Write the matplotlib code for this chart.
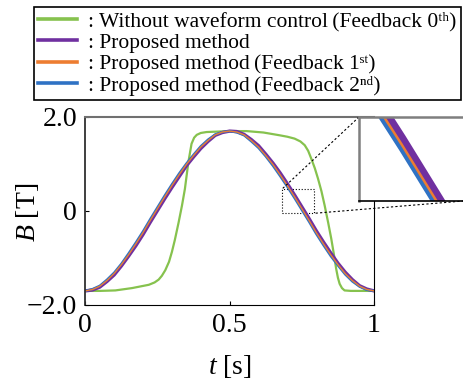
import matplotlib.pyplot as plt
from matplotlib.font_manager import FontProperties
from mpl_toolkits.axes_grid1.inset_locator import mark_inset

plt.rcParams['font.family'] = ['Liberation Serif', 'DejaVu Serif', 'Noto Sans CJK JP']
plt.rcParams['mathtext.fontset'] = 'custom'
plt.rcParams['mathtext.rm'] = 'Liberation Serif'
plt.rcParams['mathtext.it'] = 'Liberation Serif:italic'

# time axis [s] for the proposed-method curves
t = [0.0, 0.025, 0.05, 0.075, 0.1, 0.125, 0.15, 0.175, 0.2, 0.225,
     0.25, 0.275, 0.3, 0.325, 0.35, 0.375, 0.4, 0.425, 0.45, 0.475,
     0.5, 0.525, 0.55, 0.575, 0.6, 0.625, 0.65, 0.675, 0.7, 0.725,
     0.75, 0.775, 0.8, 0.825, 0.85, 0.875, 0.9, 0.925, 0.95, 0.975, 1.0]

# B [T]
b_proposed = [-1.70, -1.68, -1.62, -1.50, -1.36, -1.17, -0.96, -0.74, -0.50, -0.24,
              0.01, 0.26, 0.50, 0.73, 0.96, 1.15, 1.33, 1.48, 1.61, 1.67,
              1.70, 1.69, 1.63, 1.52, 1.39, 1.21, 1.02, 0.81, 0.58, 0.34,
              0.09, -0.16, -0.42, -0.66, -0.89, -1.11, -1.30, -1.46, -1.59, -1.66, -1.70]
b_fb1 = [-1.70, -1.67, -1.60, -1.48, -1.33, -1.14, -0.93, -0.70, -0.46, -0.20,
         0.05, 0.30, 0.54, 0.77, 0.99, 1.18, 1.36, 1.50, 1.62, 1.68,
         1.70, 1.68, 1.62, 1.50, 1.36, 1.18, 0.99, 0.77, 0.54, 0.30,
         0.05, -0.20, -0.46, -0.70, -0.93, -1.14, -1.33, -1.48, -1.60, -1.67, -1.70]
b_fb2 = [-1.70, -1.66, -1.59, -1.46, -1.31, -1.12, -0.90, -0.67, -0.43, -0.17,
         0.08, 0.33, 0.57, 0.80, 1.01, 1.20, 1.38, 1.52, 1.63, 1.68,
         1.70, 1.67, 1.61, 1.48, 1.34, 1.16, 0.96, 0.74, 0.51, 0.27,
         0.02, -0.23, -0.49, -0.73, -0.96, -1.16, -1.35, -1.50, -1.61, -1.68, -1.70]

# without waveform control (feedback 0th)
t_wo = [0.0, 0.05, 0.104, 0.162, 0.22, 0.24, 0.254, 0.265, 0.277, 0.29,
        0.30, 0.31, 0.323, 0.335, 0.345, 0.357, 0.368, 0.377, 0.386, 0.40,
        0.42, 0.46, 0.50, 0.559, 0.617, 0.674, 0.70, 0.725, 0.745, 0.76,
        0.772, 0.783, 0.795, 0.806, 0.818, 0.829, 0.841, 0.852, 0.861, 0.869,
        0.875, 0.881, 0.889, 0.898, 0.92, 0.96, 1.0]
b_wo = [-1.70, -1.70, -1.69, -1.64, -1.57, -1.52, -1.46, -1.38, -1.26, -1.08,
        -0.87, -0.62, -0.25, 0.12, 0.47, 1.04, 1.43, 1.56, 1.62, 1.66,
        1.68, 1.69, 1.70, 1.70, 1.67, 1.61, 1.58, 1.54, 1.48, 1.40,
        1.28, 1.11, 0.91, 0.69, 0.42, 0.12, -0.24, -0.59, -0.92, -1.23,
        -1.42, -1.55, -1.64, -1.69, -1.70, -1.70, -1.70]

labels = [': Without waveform control\u2009(Feedback 0ᵗʰ)',
          ': Proposed method',
          ': Proposed method\u2009(Feedback 1ˢᵗ)',
          ': Proposed method\u2009(Feedback 2ⁿᵈ)']

green = '#86c24e'
purple = '#7030a0'
orange = '#ed7d31'
blue = '#2f72c4'

fig = plt.figure(figsize=(4.63, 3.81), dpi=100)
ax = fig.add_axes([85.3 / 463, 76 / 381, 288.7 / 463, 188 / 381])

l_wo, = ax.plot(t_wo, b_wo, color=green, lw=1.6)
l_p, = ax.plot(t, b_proposed, color=purple, lw=2.4)
l_2, = ax.plot(t, b_fb2, color=blue, lw=1.6)
l_1, = ax.plot(t, b_fb1, color=orange, lw=1.0)

ax.set_xlim(0, 1)
ax.set_ylim(-2, 2)
ax.set_xticks([0, 0.5, 1])
ax.set_xticklabels(['0', '0.5', '1'])
ax.set_yticks([-2, 0, 2])
ax.set_yticklabels(['\u22122.0', '0', '2.0'])
ax.tick_params(direction='in', length=3, labelsize=20, pad=6)
ax.set_xlabel('$t$ [s]', fontsize=20)
ax.set_ylabel('$B$ [T]', fontsize=20)
ax.xaxis.set_label_coords(0.5, -0.255)
ax.yaxis.set_label_coords(-0.155, 0.49)
ax.spines['top'].set_color('#707070')
ax.spines['top'].set_linewidth(1.5)
ax.spines['left'].set_color('#303030')
ax.spines['left'].set_linewidth(1.3)

# zoomed inset
axins = fig.add_axes([359 / 463, (381 - 200.7) / 381, 108 / 463, 83.7 / 381])
axins.plot(t, b_proposed, color=purple, lw=6.3)
axins.plot(t, b_fb2, color=blue, lw=3.7)
axins.plot(t, b_fb1, color=orange, lw=1.8)
axins.set_xlim(0.682, 0.791)
axins.set_ylim(-0.05, 0.47)
axins.set_xticks([])
axins.set_yticks([])
axins.spines['right'].set_visible(False)
for s in ['left', 'top']:
    axins.spines[s].set_color('#7f7f7f')
    axins.spines[s].set_linewidth(1.8)
axins.spines['bottom'].set_linewidth(1.2)

pp, p1, p2 = mark_inset(ax, axins, loc1=2, loc2=4, fc='none', ec='black', lw=0.8)
pp.set_linestyle(':')
p1.set_linestyle((0, (2, 2)))
p2.set_linestyle((0, (2, 2)))

leg_font = FontProperties(family=['Liberation Serif', 'DejaVu Serif', 'Noto Sans CJK JP'], size=15.5)
leg = fig.legend([l_wo, l_p, l_1, l_2], labels, loc='upper left',
                 bbox_to_anchor=(34 / 463, 1 - 7 / 381), borderaxespad=0,
                 fancybox=False, edgecolor='black', framealpha=1, prop=leg_font,
                 handlelength=1.8, handletextpad=0.5, labelspacing=0.065, borderpad=0.2)
leg.get_frame().set_linewidth(1.2)
for ln in leg.get_lines():
    ln.set_linewidth(2.6)

fig.savefig('out.png', dpi=100)
